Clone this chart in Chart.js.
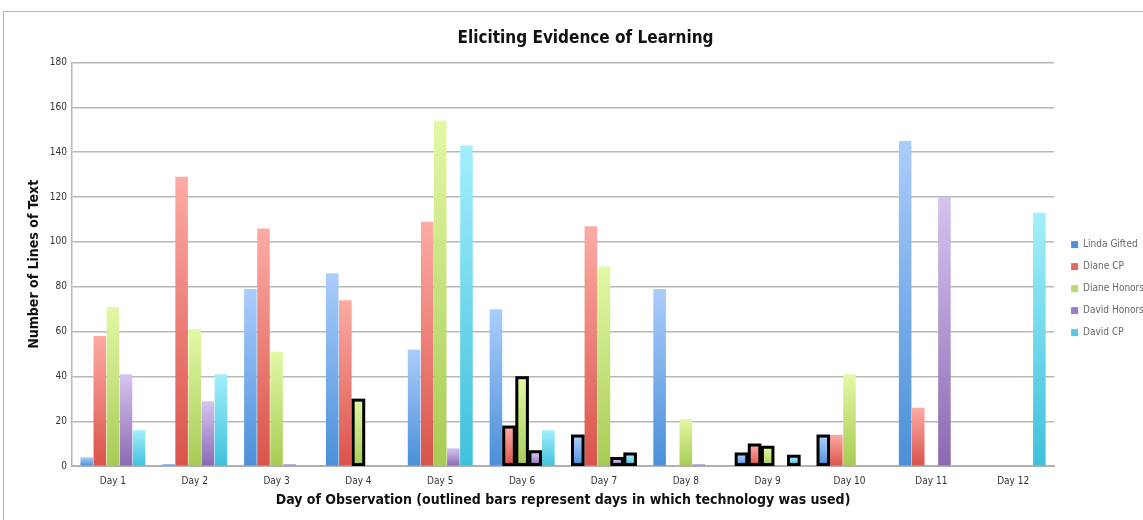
<!DOCTYPE html>
<html>
<head>
<meta charset="utf-8">
<script src="https://cdn.jsdelivr.net/npm/chart.js@4"></script>
<style>
  html, body { margin: 0; padding: 0; background: #fff; }
  #wrap { position: relative; width: 1143px; height: 520px; overflow: hidden; }
  #frame { position: absolute; left: 3px; top: 11px; right: -2px; bottom: -2px;
           border-top: 1px solid #b5b5b5; border-left: 1px solid #b5b5b5; }
  canvas { position: absolute; left: 0; top: 0; }
</style>
</head>
<body>
<div id="wrap">
  <div id="frame"></div>
  <canvas id="grafico" width="1143" height="520"></canvas>
</div>
<script>
const dias = ["Day 1", "Day 2", "Day 3", "Day 4", "Day 5", "Day 6",
  "Day 7", "Day 8", "Day 9", "Day 10", "Day 11", "Day 12"];

const lindaGifted  = [4, 1, 79, 86, 52, 70, 13, 79, 5, 13, 145, 0];
const dianeCP      = [58, 129, 106, 74, 109, 17, 107, 0, 9, 14, 26, 0];
const dianeHonors  = [71, 61, 51, 29, 154, 39, 89, 21, 8, 41, 0, 0];
const davidHonors  = [41, 29, 1, 0, 8, 6, 3, 1, 0, 0, 120, 0];
const davidCP      = [16, 41, 0, 0, 143, 16, 5, 0, 4, 0, 0, 113];

// 1 = barra contornada (dia em que a tecnologia foi usada)
const lindaOutline  = [0, 0, 0, 0, 0, 0, 1, 0, 1, 1, 0, 0];
const dianeCPOut    = [0, 0, 0, 0, 0, 1, 0, 0, 1, 0, 0, 0];
const dianeHonOut   = [0, 0, 0, 1, 0, 1, 0, 0, 1, 0, 0, 0];
const davidHonOut   = [0, 0, 0, 0, 0, 1, 1, 0, 0, 0, 0, 0];
const davidCPOut    = [0, 0, 0, 0, 0, 0, 1, 0, 1, 0, 0, 0];

const fonte = "'DejaVu Sans Condensed', 'Liberation Sans', sans-serif";

// gradiente por barra: claro em cima, escuro embaixo
const gradiente = (topo, base, solida) => (ctx) => {
  const chart = ctx.chart;
  if (ctx.type !== "data" || !chart.chartArea) return solida;
  const y = chart.scales.y;
  const yTopo = y.getPixelForValue(ctx.raw);
  const yBase = y.getPixelForValue(0);
  if (!isFinite(yTopo) || yBase - yTopo < 1) return base;
  const g = chart.ctx.createLinearGradient(0, yTopo, 0, yBase);
  g.addColorStop(0, topo);
  g.addColorStop(1, base);
  return g;
};

const serie = (label, data, contorno, topo, base, solida) => ({
  label: label,
  data: data,
  contorno: contorno,
  backgroundColor: gradiente(topo, base, solida),
  borderWidth: 0,
  categoryPercentage: 0.8,
  barPercentage: 0.96,
});

// contorno preto por fora das barras marcadas
const contornoPlugin = {
  id: "contorno",
  afterLayout(chart) {
    // empurra a legenda um pouco para a direita
    chart.legend.left += 5;
    chart.legend.right += 5;
  },
  afterDatasetsDraw(chart) {
    const c = chart.ctx;
    c.save();
    c.strokeStyle = "#000";
    c.lineWidth = 3;
    chart.data.datasets.forEach((ds, i) => {
      const meta = chart.getDatasetMeta(i);
      meta.data.forEach((bar, j) => {
        if (!ds.contorno[j]) return;
        const p = bar.getProps(["x", "y", "base", "width"], true);
        const x0 = p.x - p.width / 2 + 1;
        const w = p.width - 2;
        const top = Math.min(p.y, p.base - 4) - 1;
        c.strokeRect(x0, top, w, p.base - top - 1);
      });
    });
    c.restore();
  },
};

new Chart(document.getElementById("grafico"), {
  type: "bar",
  data: {
    labels: dias,
    datasets: [
      serie("Linda Gifted", lindaGifted, lindaOutline, "#abcdfc", "#4a8fd8", "#5b9be0"),
      serie("Diane CP", dianeCP, dianeCPOut, "#fdaba5", "#d9534a", "#e06a60"),
      serie("Diane Honors", dianeHonors, dianeHonOut, "#e2f8a6", "#a8cb54", "#b5d665"),
      serie("David Honors", davidHonors, davidHonOut, "#d5c4f0", "#8c69b3", "#a17fc6"),
      serie("David CP", davidCP, davidCPOut, "#a3effb", "#3ec0dc", "#5ccce4"),
    ],
  },
  plugins: [contornoPlugin],
  options: {
    responsive: false,
    animation: false,
    layout: { padding: { top: 16, left: 22, right: -6, bottom: 4 } },
    plugins: {
      title: {
        display: true,
        text: "Eliciting Evidence of Learning",
        font: { family: fonte, size: 17, weight: "bold" },
        color: "#111",
        padding: { top: 12, bottom: 14 },
      },
      legend: {
        position: "right",
        align: "center",
        title: { display: true, text: " ", font: { size: 1 }, padding: { top: 0, bottom: 44 } },
        labels: {
          boxWidth: 7,
          boxHeight: 7,
          padding: 12,
          color: "#222",
          font: { family: fonte, size: 10 },
          generateLabels: (chart) =>
            chart.data.datasets.map((ds, i) => ({
              text: ds.label,
              fillStyle: ["#4f8fd6", "#e06a60", "#b8d870", "#9c7cc4", "#58c8e2"][i],
              strokeStyle: "transparent",
              lineWidth: 0,
              datasetIndex: i,
            })),
        },
      },
      tooltip: { enabled: false },
    },
    scales: {
      x: {
        grid: { display: false, drawTicks: false },
        border: { color: "#b0b0b0", width: 2 },
        ticks: { color: "#333", font: { family: fonte, size: 10 }, padding: 9 },
        title: {
          display: true,
          text: "Day of Observation (outlined bars represent days in which technology was used)",
          color: "#111",
          font: { family: fonte, size: 14, weight: "bold" },
          padding: { top: -4, bottom: 7 },
        },
      },
      y: {
        min: 0,
        max: 180,
        ticks: { stepSize: 20, color: "#333", font: { family: fonte, size: 10 }, padding: 5 },
        grid: { color: "#b8b8b8", lineWidth: 1.5, drawTicks: false },
        border: { color: "#b8b8b8", width: 1.5 },
        title: {
          display: true,
          text: "Number of Lines of Text",
          color: "#111",
          font: { family: fonte, size: 14, weight: "bold" },
          padding: { bottom: 2 },
        },
      },
    },
  },
});
</script>
</body>
</html>
